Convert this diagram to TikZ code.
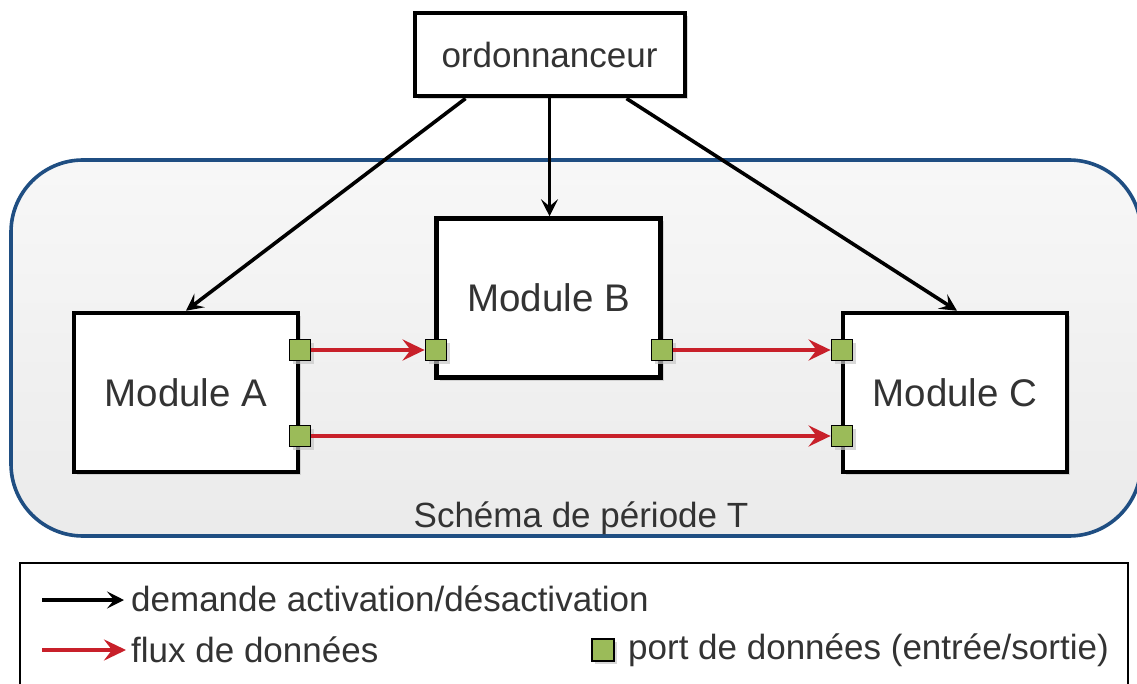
\documentclass[tikz,border=0pt]{standalone}
\usepackage{fontspec}
\setmainfont{Liberation Sans}
\usetikzlibrary{arrows.meta,shadows,calc}
\definecolor{txt}{HTML}{333333}
\definecolor{contblue}{HTML}{1F4E82}
\definecolor{portgreen}{HTML}{9BBB59}
\definecolor{flowred}{HTML}{C8202A}
\tikzset{
  boxshadow/.style={drop shadow={shadow xshift=3pt,shadow yshift=-3pt,fill=black!22,opacity=0.7}},
  modbox/.style={draw=black,line width=4.5pt,fill=white,boxshadow,text=txt,font=\fontsize{38.5}{40}\selectfont,minimum width=224pt,minimum height=159pt,inner sep=0pt},
  ordbox/.style={draw=black,line width=4pt,fill=white,boxshadow,text=txt,font=\fontsize{35}{38}\selectfont,minimum width=270pt,minimum height=83pt,inner sep=0pt},
  port/.style={draw=black,line width=1.8pt,fill=portgreen,minimum size=21pt,inner sep=0pt,boxshadow},
  ctrl/.style={draw=black,line width=3.6pt,-{Stealth[length=17pt,width=17pt,inset=7pt]}},
  flow/.style={draw=flowred,line width=4.6pt,-{Stealth[length=22pt,width=21pt,inset=8pt]}},
  lbl/.style={text=txt,font=\fontsize{35}{38}\selectfont,inner sep=0pt},
}
\begin{document}
\begin{tikzpicture}[x=1pt,y=-1pt]
\useasboundingbox (0,0) rectangle (1137,684);
\clip (0,0) rectangle (1137,684);
% container
\node[draw=contblue,line width=3.6pt,rounded corners=72pt,top color=white!97!black,bottom color=black!8,minimum width=1130pt,minimum height=376pt,inner sep=0pt] (cont) at (576,348) {};
\node[lbl] (contlbl) at (581,518) {Schéma de période T};
% modules
\node[ordbox] (ord) at (549.5,55) {ordonnanceur};
\node[modbox] (A) at (186,392.5) {Module A};
\node[modbox] (B) at (548.5,298) {Module B};
\node[modbox] (C) at (955,392.5) {Module C};
% ports
\node[port] (pA1) at (300,350) {};
\node[port] (pA2) at (300,436) {};
\node[port] (pB1) at (436,350) {};
\node[port] (pB2) at (662,350) {};
\node[port] (pC1) at (842,350) {};
\node[port] (pC2) at (842,436) {};
% control arrows
\coordinate (oA) at ($(ord.south west)+(53,0)$);
\coordinate (oC) at ($(ord.south west)+(214,0)$);
\draw[ctrl] (oA) -- (A.north);
\draw[ctrl] (ord.south) -- (ord.south |- B.north);
\draw[ctrl] (oC) -- ($(C.north)+(2,0)$);
% data flows
\draw[flow] (pA1.east) -- (pB1.west);
\draw[flow] (pB2.east) -- (pC1.west);
\draw[flow] (pA2.east) -- (pC2.west);
% legend
\node[draw=black,line width=2.4pt,fill=white,minimum width=1108pt,minimum height=160pt,inner sep=0pt] (leg) at (574,643) {};
\coordinate (l1s) at (42,600);
\coordinate (l1e) at (124,600);
\coordinate (l2s) at (42,650);
\coordinate (l2e) at (126,650);
\draw[ctrl] (l1s) -- (l1e);
\draw[flow] (l2s) -- (l2e);
\node[lbl,anchor=west] (t1) at (131,599) {demande activation/désactivation};
\node[lbl,anchor=west] (t2) at (131,650) {flux de données};
\node[port,minimum size=22pt] (lp) at (603,650) {};
\node[lbl,anchor=west] (t3) at (628,650) {port de données (entrée/sortie)};
\end{tikzpicture}
\end{document}
